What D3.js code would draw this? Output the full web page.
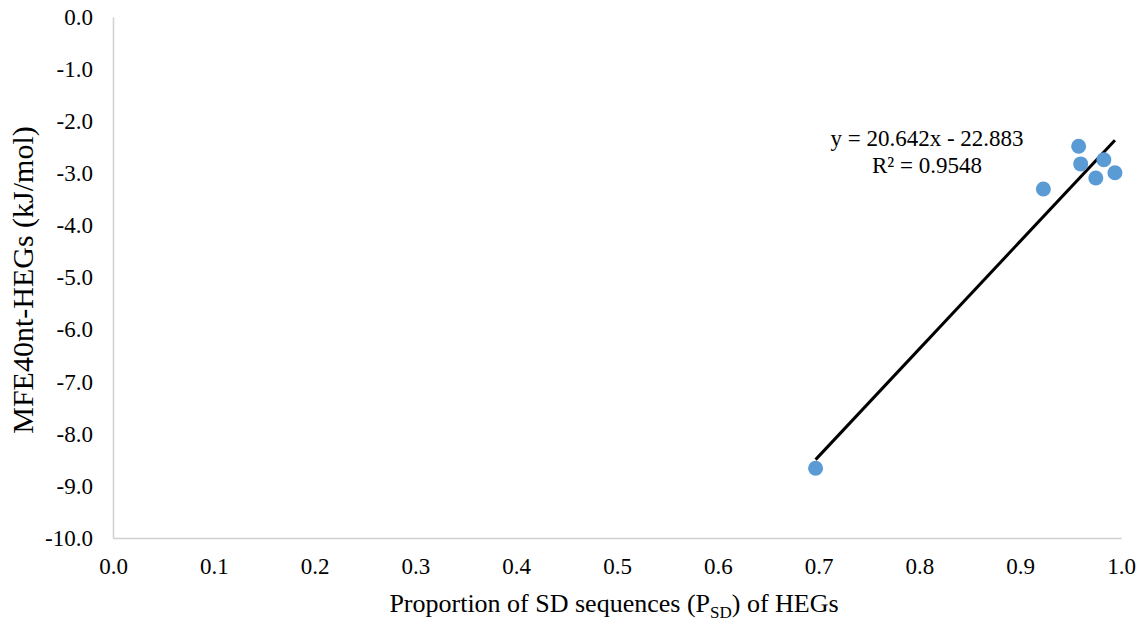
<!DOCTYPE html>
<html>
<head>
<meta charset="UTF-8"/>
<script src="https://d3js.org/d3.v7.min.js"></script>
<style>
body { margin: 0; background: #fff; }
svg { display: block; }
text { font-family: 'Liberation Serif', 'Times New Roman', serif; fill: #000; }
.tick text { font-size: 23px; }
.axis path, .axis line { stroke: #d0d0d0; }
text.xlabel { font-size: 26px; }
text.ylabel { font-size: 30px; }
text.eq { font-size: 23px; }
</style>
</head>
<body>
<svg width="1142" height="622"></svg>
<script>
// data points
const psd = [0.697, 0.923, 0.958, 0.960, 0.983, 0.975, 0.994];
const mfe = [-8.66, -3.30, -2.48, -2.82, -2.74, -3.09, -2.99];
const xTicks = [0, 0.1, 0.2, 0.3, 0.4, 0.5, 0.6, 0.7, 0.8, 0.9, 1.0];
const yTicks = [0, -1, -2, -3, -4, -5, -6, -7, -8, -9, -10];
// trendline as printed on the chart
const slope = 20.642;
const intercept = -22.883;
const r2 = 0.9548;

const svg = d3.select('svg');
const plotLeft = 113, plotRight = 1121, plotTop = 17, plotBottom = 538;

const x = d3.scaleLinear().domain([0, 1]).range([plotLeft, plotRight]);
const y = d3.scaleLinear().domain([-10, 0]).range([plotBottom, plotTop]);

const fmt = d => d.toFixed(1);

// y axis
const yAxis = svg.append('g')
  .attr('class', 'axis')
  .attr('transform', `translate(${plotLeft},0)`)
  .call(d3.axisLeft(y).tickValues(yTicks).tickSize(0).tickPadding(20).tickFormat(fmt));
yAxis.attr('font-family', null).attr('font-size', null);
yAxis.select('.domain').attr('stroke-width', 1.5);

// x axis
const xAxis = svg.append('g')
  .attr('class', 'axis')
  .attr('transform', `translate(0,${plotBottom})`)
  .call(d3.axisBottom(x).tickValues(xTicks).tickSize(0).tickPadding(20).tickFormat(fmt));
xAxis.attr('font-family', null).attr('font-size', null);
xAxis.select('.domain').attr('stroke-width', 1.5);

// trendline over the data range
const ext = d3.extent(psd);
svg.append('line')
  .attr('x1', x(ext[0])).attr('y1', y(slope * ext[0] + intercept))
  .attr('x2', x(ext[1])).attr('y2', y(slope * ext[1] + intercept))
  .attr('stroke', '#000').attr('stroke-width', 3);

// points
svg.append('g').selectAll('circle')
  .data(psd.map((v, i) => [v, mfe[i]]))
  .join('circle')
  .attr('cx', d => x(d[0]))
  .attr('cy', d => y(d[1]))
  .attr('r', 7.5)
  .attr('fill', '#5b9bd5');

// equation
const eq = svg.append('text').attr('class', 'eq').attr('text-anchor', 'middle');
eq.append('tspan').attr('x', 927).attr('y', 146).text(`y = ${slope}x - ${Math.abs(intercept)}`);
eq.append('tspan').attr('x', 927).attr('y', 173).text(`R² = ${r2}`);

// axis labels
const xl = svg.append('text').attr('class', 'xlabel')
  .attr('x', 614).attr('y', 612).attr('text-anchor', 'middle');
xl.append('tspan').text('Proportion of SD sequences (P');
xl.append('tspan').attr('dy', 6).style('font-size', '17px').text('SD');
xl.append('tspan').attr('dy', -6).text(') of HEGs');

svg.append('text').attr('class', 'ylabel')
  .attr('transform', `translate(33,280) rotate(-90)`)
  .attr('text-anchor', 'middle')
  .text('MFE40nt-HEGs (kJ/mol)');
</script>
</body>
</html>
